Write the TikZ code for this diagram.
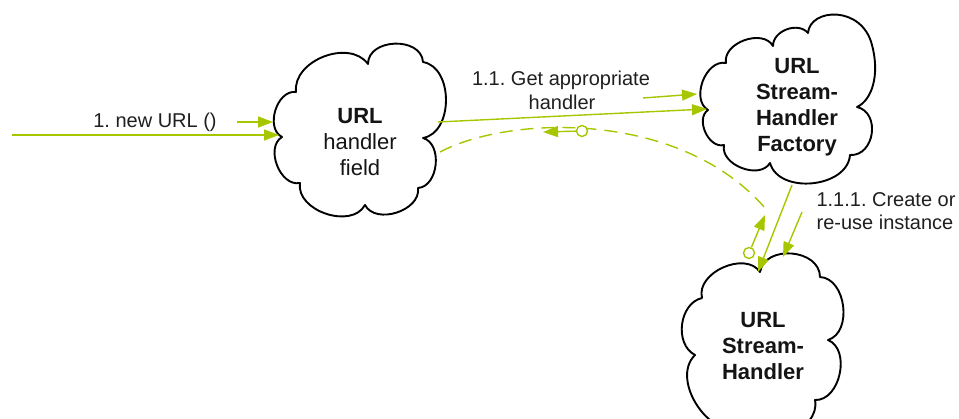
\documentclass[tikz,border=0pt]{standalone}
\usepackage{fontspec}
\setmainfont{Liberation Sans}
\usetikzlibrary{arrows.meta}
\definecolor{lime}{RGB}{168,198,0}
\frenchspacing
\begin{document}
\begin{tikzpicture}[x=1pt,y=-1pt,
  cloudline/.style={draw=black, line width=1.9pt, line join=round},
  lobe/.style={bend left=#1, looseness=1.05},
  lobe/.default=80,
  flow/.style={draw=lime, line width=1.4pt, -{Triangle[length=15pt,width=11pt]}},
  back/.style={draw=lime, line width=1.4pt, dash pattern=on 13pt off 8pt},
  retmark/.style={draw=lime, line width=1.4pt, fill=white, circle, minimum size=11pt, inner sep=0pt},
  label/.style={font=\fontsize{20}{24}\selectfont, inner sep=0pt, anchor=base, text=black!88},
  cloudtext/.style={font=\fontsize{22}{26}\selectfont, align=center, inner sep=0pt, text=black!92}
]
\useasboundingbox (0,0) rectangle (959,419);
\clip (0,0) rectangle (959,419);

% --- clouds ---
% URL handler field
\draw[cloudline] (368,64) to[lobe=88, looseness=1.2] (423,62) to[lobe] (423,138) to[lobe] (418,188)
  to[lobe] (365,205) to[lobe] (300,183) to[lobe] (282,137) to[lobe] (296,92)
  to[lobe=75] (368,64) -- cycle;
\node[cloudtext] (hf) at (360,142) {\textbf{URL}\\handler\\field};

% URL Stream-Handler Factory
\draw[cloudline] (808,33) .. controls (810,8) and (862,5) .. (872,45)
  .. controls (880,75) and (872,100) .. (857,107)
  to[lobe=85, looseness=1.3] (850,155)
  to[lobe] (770,163) to[lobe] (724,145) to[lobe] (708,110) to[lobe] (726,63)
  to[lobe] (773,46) to[lobe=70] (808,33) -- cycle;
\node[cloudtext] (fac) at (797,107) {\textbf{URL}\\\textbf{Stream-}\\\textbf{Handler}\\\textbf{Factory}};

% URL Stream-Handler
\draw[cloudline] (760,272) to[lobe=85, looseness=1.2] (820,277) to[lobe] (828,340) to[lobe] (815,400)
  to[lobe] (745,428) to[lobe] (695,355) to[lobe=70] (702,298) to[lobe] (760,272) -- cycle;
\node[cloudtext] (sh) at (763,346) {\textbf{URL}\\\textbf{Stream-}\\\textbf{Handler}};

% --- connection points ---
\coordinate (start) at (12,135);
\coordinate (hf-w) at (279,135);
\coordinate (hf-e) at (438,122);
\coordinate (hf-r) at (440,152);
\coordinate (fac-w) at (707,109);
\coordinate (fac-r) at (765,208);
\coordinate (fac-s) at (792,185);
\coordinate (sh-n) at (758,272);

% message 1
\draw[flow] (start) -- (hf-w);
\coordinate (m1a) at (237,122); \coordinate (m1b) at (273,122);
\draw[flow] (m1a) -- (m1b);
\node[label] (l1) at (155,128) {1. new URL ()};

% message 1.1
\draw[flow] (hf-e) -- (fac-w);
\coordinate (m2a) at (643,98); \coordinate (m2b) at (697,94);
\draw[flow] (m2a) -- (m2b);
\node[label] (l2a) at (561,86) {1.1. Get appropriate};
\node[label] (l2b) at (562,110) {handler};

% message 1.1.1
\draw[flow] (fac-s) -- (sh-n);
\coordinate (m3a) at (802,212); \coordinate (m3b) at (783,257);
\draw[flow] (m3a) -- (m3b);
\node[label] (l3a) at (886,207) {1.1.1. Create or};
\node[label] (l3b) at (885,230) {re-use instance};

% return path
\draw[back] (hf-r) .. controls (510,115) and (680,110) .. (fac-r);
\coordinate (r1tip) at (543,132);
\coordinate (r2tip) at (765,215);
\node[retmark] (r1) at (582,131) {};
\node[retmark] (r2) at (749,253) {};
\draw[flow] (r1) -- (r1tip);
\draw[flow] (r2) -- (r2tip);
\end{tikzpicture}
\end{document}
